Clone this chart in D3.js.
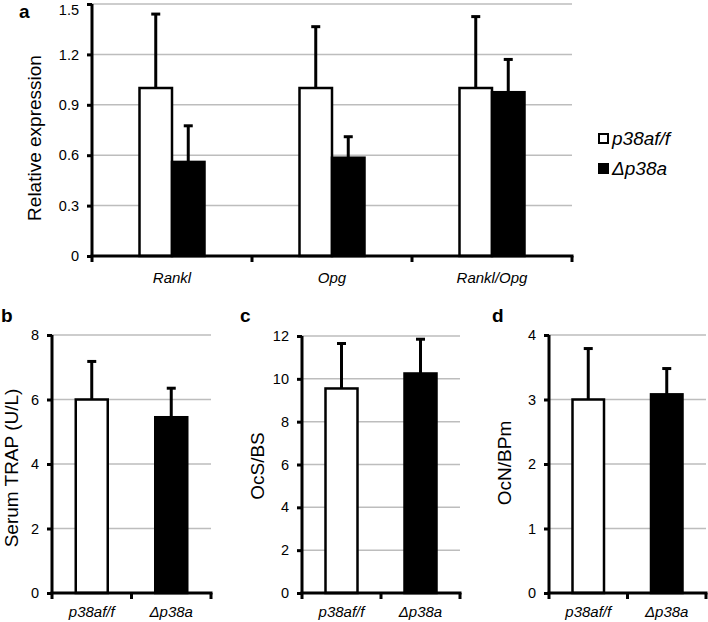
<!DOCTYPE html>
<html>
<head>
<meta charset="utf-8">
<script src="https://cdn.jsdelivr.net/npm/d3@7"></script>
<style>
  body { margin: 0; background: #fff; }
  svg { display: block; font-family: "Liberation Sans", Arial, sans-serif; }
</style>
</head>
<body>
<svg id="chart" width="708" height="622"></svg>
<script>
// series
var seriesNames = ["p38af/f", "\u0394p38a"]
var seriesFill = ["#ffffff", "#000000"]

// panel a
var aCategories = ["Rankl", "Opg", "Rankl/Opg"]
var aMeans = [[1.0, 0.56], [1.0, 0.585], [1.0, 0.975]]
var aErrors = [[0.44, 0.215], [0.365, 0.125], [0.425, 0.195]]
var aTicks = [0, 0.3, 0.6, 0.9, 1.2, 1.5]

// panel b
var bMeans = [6.0, 5.45]
var bErrors = [1.18, 0.9]
var bTicks = [0, 2, 4, 6, 8]

// panel c
var cMeans = [9.55, 10.25]
var cErrors = [2.1, 1.6]
var cTicks = [0, 2, 4, 6, 8, 10, 12]

// panel d
var dMeans = [3.0, 3.08]
var dErrors = [0.79, 0.4]
var dTicks = [0, 1, 2, 3, 4]

var svg = d3.select("#chart")

var drawPanel = function(p) {
    var g = svg.append("g")

    var xScale = d3.scaleBand()
        .domain(p.categories)
        .range([p.left, p.right])

    var yScale = d3.scaleLinear()
        .domain([0, p.ticks[p.ticks.length - 1]])
        .range([p.bottom, p.top])

    // gridlines
    g.selectAll("grid")
      .data(p.ticks.slice(1))
      .enter()
      .append("line")
        .attr("x1", p.left)
        .attr("x2", p.right)
        .attr("y1", function(d){ return yScale(d) })
        .attr("y2", function(d){ return yScale(d) })
        .attr("stroke", "#bdbdbd")
        .attr("stroke-width", 1.5)

    // bars + error bars
    p.categories.forEach(function(cat, ci) {
        var cx = xScale(cat) + xScale.bandwidth() / 2
        p.means[ci].forEach(function(v, si) {
            var sIdx = p.seriesIndex ? p.seriesIndex[ci] : si
            var offset = p.seriesIndex ? -p.barW / 2 : (si === 0 ? -p.barW : 0)
            var x0 = cx + offset
            var xm = x0 + p.barW / 2
            var top = yScale(v + p.errors[ci][si])
            g.append("line")
              .attr("x1", xm).attr("x2", xm)
              .attr("y1", yScale(v)).attr("y2", top)
              .attr("stroke", "#000").attr("stroke-width", 3)
            g.append("line")
              .attr("x1", xm - 4.5).attr("x2", xm + 4.5)
              .attr("y1", top).attr("y2", top)
              .attr("stroke", "#000").attr("stroke-width", 3)
            g.append("rect")
              .attr("x", x0)
              .attr("y", yScale(v))
              .attr("width", p.barW)
              .attr("height", yScale(0) - yScale(v))
              .attr("fill", seriesFill[sIdx])
              .attr("stroke", "#000")
              .attr("stroke-width", 2.5)
        })
    })

    // y axis
    var yAxis = d3.axisLeft(yScale)
        .tickValues(p.ticks)
        .tickSize(5)
        .tickPadding(8)
        .tickFormat(function(d){ return d3.format(p.fmt)(d) })
    var ya = g.append("g")
        .attr("transform", "translate(" + p.left + ",0)")
        .call(yAxis)
        .attr("font-family", null)
    ya.select(".domain").attr("stroke-width", 3).attr("d", "M0," + p.top + "V" + p.bottom)
    ya.selectAll(".tick line").attr("stroke-width", 3)
    ya.selectAll(".tick text")
        .style("font-size", p.tickFont + "px")
        .attr("fill", "#000")
        .attr("dy", function(d){ return yScale(d) < 8 ? "0.72em" : "0.32em" })

    // x axis
    var xa = g.append("g")
        .attr("transform", "translate(0," + p.bottom + ")")
    xa.append("line")
        .attr("x1", p.left - 1.5).attr("x2", p.right + 1.5)
        .attr("stroke", "#000").attr("stroke-width", 3)
    var bounds = p.categories.map(function(c){ return xScale(c) }).concat([p.right])
    xa.selectAll("xt")
      .data(bounds)
      .enter()
      .append("line")
        .attr("x1", function(d){ return d }).attr("x2", function(d){ return d })
        .attr("y1", 0).attr("y2", 6)
        .attr("stroke", "#000").attr("stroke-width", 3)
    xa.selectAll("xl")
      .data(p.categories)
      .enter()
      .append("text")
        .attr("x", function(d){ return xScale(d) + xScale.bandwidth() / 2 })
        .attr("y", p.labelY - p.bottom)
        .attr("text-anchor", "middle")
        .style("font-size", "15px")
        .style("font-style", "italic")
        .text(function(d){ return d })

    // y label
    g.append("text")
        .attr("transform", "translate(" + p.ylabX + "," + p.ylabY + ") rotate(-90)")
        .attr("text-anchor", "middle")
        .style("font-size", "19px")
        .text(p.ylabel)

    // panel letter
    g.append("text")
        .attr("x", p.letterX)
        .attr("y", p.letterY)
        .style("font-size", "19px")
        .style("font-weight", "bold")
        .text(p.letter)
}

drawPanel({
    categories: aCategories, means: aMeans, errors: aErrors, ticks: aTicks,
    left: 92, right: 572, top: 4, bottom: 256, barW: 32.5, fmt: ".1~f", tickFont: 14.5,
    labelY: 283, ylabel: "Relative expression", ylabX: 41, ylabY: 138,
    letter: "a", letterX: 19, letterY: 18
})

drawPanel({
    categories: seriesNames, means: bMeans.map(function(d){ return [d] }),
    errors: bErrors.map(function(d){ return [d] }), seriesIndex: [0, 1], ticks: bTicks,
    left: 52, right: 211, top: 335, bottom: 593, barW: 32, fmt: "d", tickFont: 14.5,
    labelY: 617, ylabel: "Serum TRAP (U/L)", ylabX: 18, ylabY: 468,
    letter: "b", letterX: 1, letterY: 322
})

drawPanel({
    categories: seriesNames, means: cMeans.map(function(d){ return [d] }),
    errors: cErrors.map(function(d){ return [d] }), seriesIndex: [0, 1], ticks: cTicks,
    left: 302, right: 460, top: 336, bottom: 593, barW: 32, fmt: "d", tickFont: 14.5,
    labelY: 617, ylabel: "OcS/BS", ylabX: 264, ylabY: 466,
    letter: "c", letterX: 240, letterY: 322
})

drawPanel({
    categories: seriesNames, means: dMeans.map(function(d){ return [d] }),
    errors: dErrors.map(function(d){ return [d] }), seriesIndex: [0, 1], ticks: dTicks,
    left: 549, right: 706, top: 335, bottom: 593, barW: 31.5, fmt: "d", tickFont: 14.5,
    labelY: 617, ylabel: "OcN/BPm", ylabX: 511, ylabY: 463,
    letter: "d", letterX: 492, letterY: 322
})

// legend for panel a
var legend = svg.append("g")
legend.selectAll("lg")
  .data(seriesNames)
  .enter()
  .append("rect")
    .attr("x", 599)
    .attr("y", function(d, i){ return 134 + i * 30 })
    .attr("width", 9).attr("height", 9)
    .attr("fill", function(d, i){ return seriesFill[i] })
    .attr("stroke", "#000").attr("stroke-width", 2)
legend.selectAll("lt")
  .data(seriesNames)
  .enter()
  .append("text")
    .attr("x", 612)
    .attr("y", function(d, i){ return 145 + i * 30 })
    .style("font-size", "19px")
    .style("font-style", "italic")
    .text(function(d){ return d })
</script>
</body>
</html>
